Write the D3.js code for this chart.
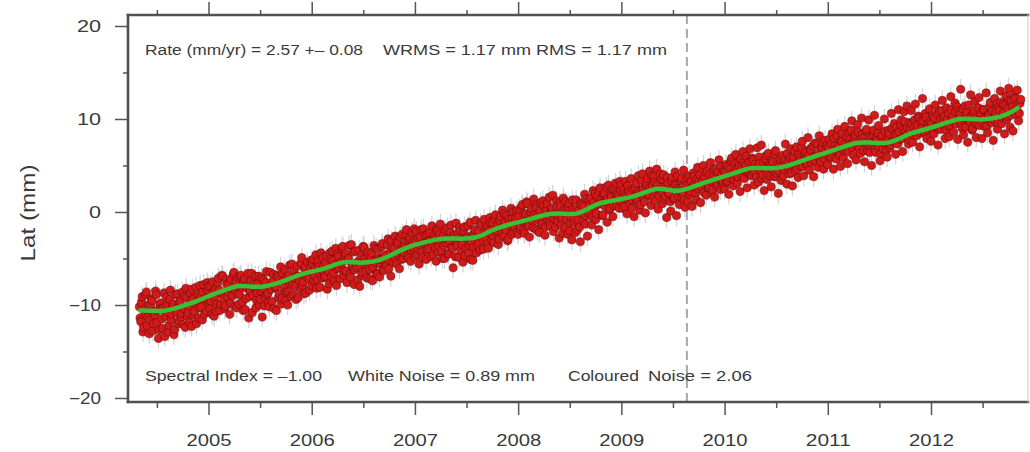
<!DOCTYPE html>
<html><head><meta charset="utf-8">
<script src="https://cdn.jsdelivr.net/npm/d3@7"></script>
<style>body{margin:0;background:#fff}svg{display:block}</style>
</head><body><svg id="c" width="1030" height="452"></svg>
<script>
// ---- data (Lat, mm): two interleaved sets, each one value every 5 days ----
const sampleStep = 1/73;
const seriesStarts = [2004.33, 2005, 2006, 2007, 2008, 2009, 2010, 2011, 2012];
const lat2004 = [-10.2,-11.8,-9.1,-12.4,-10.9,-8.6,-11.3,-13.1,-10.0,-9.5,
-12.0,-11.1,-8.9,-10.6,-12.7,-9.8,-11.5,-10.3,-13.4,-9.2,
-10.8,-12.2,-8.4,-11.0,-9.9,-12.6,-10.4,-8.8,-11.7,-9.6,
-10.9,-12.1,-9.0,-8.2,-11.2,-10.1,-8.7,-12.3,-9.4,-10.7,
-8.1,-9.8,-11.4,-7.9,-10.2,-8.6,-11.0,-9.3,-7.6];
const lat2005 = [-8.0,-10.4,-9.6,-7.5,-11.2,-8.3,-9.9,-7.1,-10.6,-8.8,
-6.9,-9.4,-10.1,-7.8,-8.6,-11.0,-7.2,-9.0,-6.5,-8.4,
-10.3,-7.0,-8.9,-6.8,-9.7,-7.6,-10.5,-8.2,-6.6,-9.1,
-7.4,-10.8,-8.0,-6.9,-9.5,-7.7,-10.0,-8.5,-11.3,-7.3,
-9.2,-6.4,-8.7,-10.2,-7.9,-9.6,-6.7,-8.1,-10.6,-7.0,
-8.8,-5.9,-9.3,-7.4,-6.2,-8.6,-10.0,-6.8,-7.7,-5.6,
-8.9,-7.1,-9.4,-5.8,-6.9,-8.3,-4.9,-7.5,-6.1,-8.7,
-5.4,-7.2,-6.0];
const lat2006 = [-7.9,-5.1,-6.8,-4.6,-7.3,-5.9,-8.1,-6.2,-4.9,-7.0,
-5.5,-8.3,-6.4,-4.4,-6.9,-5.2,-7.4,-3.9,-6.1,-4.8,
-7.2,-5.6,-3.7,-6.3,-4.5,-7.6,-5.0,-6.7,-3.5,-5.8,
-7.8,-4.2,-6.0,-5.3,-8.0,-4.7,-6.5,-3.8,-5.7,-7.1,
-4.3,-6.2,-5.0,-7.4,-3.6,-5.4,-6.6,-4.0,-7.0,-5.1,
-3.4,-6.3,-4.6,-5.8,-2.9,-5.2,-6.9,-3.8,-4.5,-2.6,
-5.6,-3.3,-6.1,-4.2,-2.4,-5.0,-3.6,-1.9,-4.7,-3.0,
-5.3,-2.2,-3.9];
const lat2007 = [-4.8,-2.1,-3.9,-5.6,-2.7,-4.3,-1.8,-3.4,-5.1,-2.4,
-4.0,-3.1,-1.5,-4.6,-2.9,-5.3,-2.0,-3.7,-1.3,-4.2,
-2.6,-5.0,-3.3,-1.7,-4.5,-2.2,-3.8,-6.0,-2.5,-1.2,
-3.6,-4.9,-2.0,-3.0,-5.4,-1.6,-3.9,-2.7,-4.4,-1.1,
-3.2,-5.2,-2.3,-0.9,-3.5,-2.1,-4.1,-1.4,-3.0,-0.8,
-2.8,-1.7,-3.9,-0.6,-2.4,-1.2,-3.3,-0.3,-2.0,-3.5,
-0.9,-1.8,0.2,-2.6,-1.1,-0.4,-2.9,-1.5,0.4,-0.7,
-2.2,-1.0,0.1];
const lat2008 = [-2.4,0.3,-1.6,0.8,-2.0,-0.5,1.1,-1.3,-2.7,0.0,
-0.9,1.4,-1.8,0.5,-0.3,-2.2,1.0,-1.1,0.7,-2.5,
0.2,-0.8,1.6,-1.5,0.4,-2.1,-0.2,1.2,-1.0,-2.8,
0.6,-0.6,1.5,-1.7,-0.1,-2.4,0.9,-1.2,-3.0,0.3,
-0.7,1.3,-1.9,0.1,-3.2,0.8,-1.0,1.9,-0.4,-2.6,
1.2,0.0,-1.4,2.3,0.5,-0.8,1.7,-1.9,2.6,0.9,
-0.3,2.0,1.1,-1.1,2.9,0.4,1.6,-0.5,2.4,3.1,
0.6,1.9,3.3];
const lat2009 = [2.9,0.4,1.9,3.3,-0.2,2.2,0.9,3.6,1.3,-0.5,
2.6,1.0,3.9,0.2,2.0,4.1,1.5,-0.1,3.0,1.8,
4.4,0.7,2.9,3.8,1.2,4.6,0.3,2.4,3.5,0.9,
4.0,1.7,-0.6,3.1,2.0,0.1,3.7,1.4,4.3,-0.4,
2.5,0.8,3.4,1.6,4.5,0.5,2.8,1.1,3.9,2.2,
0.6,4.2,2.9,1.3,4.8,3.3,1.0,2.6,5.0,3.7,
1.8,4.4,2.7,5.3,2.1,3.9,1.6,4.7,3.0,5.6,
2.4,4.1,3.2];
const lat2010 = [2.5,5.1,3.3,1.9,4.6,5.8,2.8,4.0,6.2,3.1,
5.3,2.2,4.7,6.5,3.6,5.0,2.6,4.3,6.8,3.9,
5.6,2.9,4.4,6.9,3.2,5.2,7.2,4.0,2.3,5.7,
3.5,6.3,4.8,2.7,5.4,3.8,6.6,4.2,2.0,5.0,
3.4,6.1,4.6,7.3,3.0,5.5,4.1,6.8,2.8,5.9,
4.4,7.0,3.7,5.8,4.9,7.6,3.9,6.3,5.1,8.0,
4.5,6.7,5.6,3.8,7.4,6.0,4.8,8.2,5.4,6.9,
4.6,7.7,6.2];
const lat2011 = [5.1,7.8,6.0,8.4,4.6,7.1,5.7,8.9,6.5,4.9,
7.6,5.8,9.2,6.9,5.2,8.5,7.3,9.8,6.1,8.0,
5.6,9.4,7.0,6.3,10.1,7.9,5.4,8.7,6.6,9.9,
7.2,5.0,8.3,10.4,6.4,7.7,9.3,5.5,8.1,6.8,
10.0,7.4,5.9,8.8,6.9,10.6,7.6,9.5,6.2,8.4,
11.0,7.8,9.9,6.5,10.8,8.6,11.4,7.3,9.6,10.9,
7.5,9.1,11.6,8.2,10.3,7.0,9.8,12.2,8.5,10.6,
7.9,9.4,11.1];
const lat2012 = [7.6,10.3,8.4,11.5,9.1,7.2,10.8,8.9,12.0,9.7,
7.9,11.2,9.3,8.1,12.4,10.0,8.6,11.7,9.5,7.8,
10.9,13.2,9.0,8.3,11.4,10.2,7.5,9.8,12.6,8.8,
10.6,11.9,8.0,9.4,12.3,10.1,7.9,11.0,9.2,12.8,
8.5,10.4,11.8,9.6,7.7,12.2,10.7,8.9,11.3,13.0,
9.5,11.6,8.4,12.5,10.3,13.3,9.1,11.9,8.7,12.7,
10.5,13.1,9.8,11.7];
// second set, sampled half a step later
const lat2004b = [-11.4,-9.7,-12.9,-10.5,-8.9,-12.2,-10.0,-11.6,-9.3,-12.8,
-10.7,-8.5,-11.9,-13.6,-9.9,-10.4,-12.5,-8.7,-11.2,-10.1,
-12.9,-9.4,-11.6,-10.2,-13.2,-8.9,-10.8,-12.0,-9.7,-11.3,
-8.6,-10.4,-12.4,-9.2,-10.8,-11.9,-9.5,-8.3,-11.1,-9.9,
-12.0,-8.8,-10.3,-9.0,-11.6,-7.8,-9.5,-10.7,-8.4];
const lat2005b = [-9.8,-7.9,-11.0,-8.6,-9.2,-10.7,-7.6,-8.4,-9.9,-6.8,
-8.9,-10.4,-7.3,-9.1,-7.7,-9.8,-8.3,-6.7,-10.2,-7.5,
-8.8,-9.9,-6.9,-8.1,-10.6,-7.2,-9.3,-7.9,-11.4,-8.5,
-6.6,-9.0,-7.8,-10.3,-8.7,-6.9,-9.4,-7.1,-8.2,-10.1,
-7.6,-8.9,-9.8,-6.5,-8.3,-7.4,-10.4,-8.0,-6.8,-9.2,
-7.3,-9.9,-6.6,-8.1,-9.5,-7.0,-8.6,-5.7,-9.1,-7.8,
-6.3,-8.0,-6.9,-9.2,-7.4,-5.5,-7.9,-8.8,-5.9,-7.0,
-6.6,-8.4,-5.2];
const lat2006b = [-5.6,-7.4,-6.1,-8.2,-5.3,-6.6,-4.4,-7.1,-5.8,-6.9,
-4.7,-6.3,-7.7,-5.1,-4.2,-6.6,-5.7,-7.9,-4.5,-6.0,
-5.4,-3.9,-6.8,-4.8,-6.4,-5.2,-3.6,-7.0,-5.9,-4.3,
-6.2,-5.5,-7.3,-4.1,-5.9,-6.8,-3.7,-5.0,-6.4,-4.6,
-5.8,-7.2,-4.4,-6.0,-5.3,-3.9,-6.7,-4.9,-5.6,-3.7,
-6.2,-4.8,-5.5,-3.5,-6.1,-4.3,-3.1,-5.4,-3.9,-5.0,
-3.2,-4.6,-2.7,-5.1,-3.8,-4.4,-2.5,-3.1,-5.0,-2.8,
-4.1,-3.4,-1.8];
const lat2007b = [-3.1,-4.6,-2.8,-3.6,-1.9,-4.9,-3.3,-2.5,-4.1,-3.6,
-2.2,-4.8,-3.5,-2.6,-3.9,-1.8,-4.3,-2.4,-3.2,-5.0,
-3.6,-1.9,-2.9,-4.5,-3.1,-1.4,-3.9,-2.6,-4.8,-3.4,
-2.3,-1.7,-4.1,-3.5,-2.1,-4.7,-2.8,-1.5,-3.6,-5.1,
-2.5,-3.8,-1.9,-4.4,-2.7,-3.3,-1.2,-2.8,-4.0,-2.2,
-1.5,-3.4,-2.0,-1.1,-3.0,-2.6,-0.7,-2.2,-1.4,-2.9,
-0.5,-2.3,-1.6,-0.2,-1.9,-3.1,-0.8,-1.3,-2.4,0.0,
-1.6,-0.6,-2.1];
const lat2008b = [-0.4,-1.9,0.6,-1.0,-2.3,-0.2,0.9,-1.5,-0.6,0.4,
-1.7,-0.3,0.8,-2.0,-0.9,0.2,-1.3,1.2,-0.5,-1.6,
0.9,-0.4,-1.2,0.3,1.8,-0.7,-1.6,0.6,-0.3,1.0,
-1.4,-2.3,0.2,1.1,-0.8,0.5,-2.0,-0.5,1.3,-1.1,
-2.2,0.4,-0.9,-1.6,1.0,-0.2,0.6,-1.3,1.4,-0.1,
0.7,1.5,-0.6,1.0,2.0,-0.2,0.8,2.2,1.3,-0.4,
1.9,0.6,2.7,1.4,0.2,1.8,2.5,0.7,1.2,2.0,
1.6,0.4,2.3];
const lat2009b = [1.0,2.4,0.6,1.7,2.8,1.2,2.0,0.4,2.5,1.6,
3.1,1.3,2.2,0.8,3.4,2.5,1.1,2.8,3.6,1.9,
2.6,3.9,1.5,3.2,2.4,3.0,1.8,4.1,2.2,3.5,
1.4,2.8,3.7,2.0,1.1,3.3,2.6,1.5,2.9,3.8,
1.7,2.3,3.6,2.0,1.3,3.1,3.7,2.4,1.9,3.3,
2.7,3.8,2.0,3.5,2.5,4.0,2.8,3.4,2.1,4.3,
3.1,2.6,4.0,3.3,2.4,4.6,3.6,2.8,4.3,3.5,
4.9,3.0,4.4];
const lat2010b = [4.3,3.2,4.9,3.7,5.5,4.1,3.5,5.2,4.6,3.8,
4.9,5.7,3.9,5.3,4.5,6.0,4.2,5.4,4.0,5.8,
4.3,5.1,3.7,4.8,5.9,4.4,3.6,5.3,4.7,6.1,
4.1,5.0,3.9,5.6,4.5,6.2,3.8,5.1,4.4,5.7,
4.9,3.9,5.6,5.0,6.3,4.7,5.8,4.2,5.4,6.6,
5.1,4.6,6.2,5.5,6.9,4.9,5.7,6.5,5.2,6.1,
6.8,5.3,7.1,6.0,5.5,7.3,6.3,5.8,6.9,7.5,
5.7,6.6,7.2];
const lat2011b = [6.9,5.8,7.4,6.3,7.9,6.6,8.2,7.0,6.1,7.7,
8.4,6.7,7.3,8.1,6.5,7.8,8.8,6.9,7.6,8.3,
7.1,8.6,6.8,7.9,8.4,6.6,7.5,8.9,7.2,6.4,
8.0,7.4,8.8,6.7,7.9,8.5,7.0,6.3,8.2,7.5,
8.7,6.6,7.8,8.4,7.2,9.0,7.6,8.3,9.1,7.3,
8.6,9.4,7.9,8.8,9.7,8.2,9.1,7.8,8.9,9.5,
8.3,9.9,8.7,9.3,10.1,8.5,9.0,9.8,8.6,10.2,
9.2,8.8,9.7];
const lat2012b = [9.5,8.6,10.1,9.2,10.6,8.9,9.8,10.9,9.4,10.3,
8.8,9.9,10.6,9.3,11.0,10.2,9.6,10.8,11.3,9.9,
10.5,9.4,11.1,10.0,9.1,10.7,11.5,9.7,10.3,9.0,
10.9,9.5,10.2,11.2,9.3,10.6,9.8,11.0,10.1,9.2,
10.5,11.4,9.7,10.8,9.9,10.4,11.6,9.6,10.9,11.8,
10.2,10.7,11.5,9.9,11.1,12.0,10.4,11.3,10.8,12.2,
11.0,11.7,10.6,12.1];
const latSeriesA = [lat2004, lat2005, lat2006, lat2007, lat2008, lat2009, lat2010, lat2011, lat2012];
const latSeriesB = [lat2004b, lat2005b, lat2006b, lat2007b, lat2008b, lat2009b, lat2010b, lat2011b, lat2012b];
const errorBar = 1.1;

// smoothed model (green line)
const modelYears = [2004.34,2004.45,2004.56,2004.70,2004.89,2005.05,2005.21,2005.28,2005.40,2005.53,2005.69,2005.80,2005.92,
2006.05,2006.18,2006.30,2006.40,2006.50,2006.66,2006.76,2006.86,2007.00,2007.18,2007.30,2007.45,2007.60,2007.70,2007.82,
2008.00,2008.14,2008.31,2008.45,2008.57,2008.70,2008.79,2008.95,2009.11,2009.25,2009.35,2009.45,2009.54,2009.65,2009.76,2009.90,
2010.05,2010.15,2010.25,2010.40,2010.54,2010.70,2010.85,2011.02,2011.15,2011.28,2011.40,2011.57,2011.70,2011.80,
2012.02,2012.15,2012.28,2012.40,2012.50,2012.67,2012.76,2012.84];
const modelVals = [-10.6,-10.6,-10.7,-10.3,-9.6,-8.8,-8.2,-7.9,-8.0,-8.1,-7.6,-7.1,-6.6,
-6.3,-5.9,-5.3,-5.4,-5.5,-5.2,-4.7,-4.1,-3.5,-3.0,-2.8,-2.9,-2.8,-2.2,-1.6,
-1.1,-0.7,-0.1,-0.2,-0.3,0.5,1.0,1.3,1.6,2.2,2.6,2.4,2.2,2.5,3.0,3.5,
4.0,4.4,4.8,4.7,4.7,5.3,5.9,6.5,7.0,7.5,7.5,7.3,7.9,8.5,
9.1,9.6,10.1,10.0,9.9,10.2,10.6,11.2];

const yMajor = [-20,-10,0,10,20];
const yMinor = [-15,-5,5,15];
const xMajor = [2005,2006,2007,2008,2009,2010,2011,2012];
const xMinor = [2004.5,2005.5,2006.5,2007.5,2008.5,2009.5,2010.5,2011.5,2012.5];
const antennaChange = 2009.635;
const statsTop = ["Rate (mm/yr) = 2.57 +\u2013 0.08", "WRMS = 1.17 mm RMS = 1.17 mm"];
const statsBottom = ["Spectral Index = \u20131.00", "White Noise = 0.89 mm", "Coloured", "Noise = 2.06"];
const yTitle = "Lat (mm)";

// ---- drawing ----
const svg = d3.select("#c");
const L = 128, R = 1028, T = 15, B = 402;
const x = d3.scaleLinear().domain([2005, 2012]).range([208.5, 931]);
const y = d3.scaleLinear().domain([-20, 20]).range([398, 26]);
const font = "'Liberation Sans', Arial, Helvetica, sans-serif";

svg.append("defs").append("clipPath").attr("id","clip")
  .append("rect").attr("x",L).attr("y",T).attr("width",R-L).attr("height",B-T);

const pts = [];
latSeriesA.forEach((arr, k) => arr.forEach((v, i) => pts.push({t: seriesStarts[k] + i*sampleStep, v})));
latSeriesB.forEach((arr, k) => arr.forEach((v, i) => pts.push({t: seriesStarts[k] + (i+0.5)*sampleStep, v})));
pts.sort((a,b)=>a.t-b.t);

const plot = svg.append("g").attr("clip-path","url(#clip)");
plot.append("line").attr("x1",x(antennaChange)).attr("x2",x(antennaChange))
  .attr("y1",T).attr("y2",B).attr("stroke","#a8a8a8").attr("stroke-width",2).attr("stroke-dasharray","9,5");

plot.append("g").selectAll("line").data(pts).join("line")
  .attr("x1",d=>x(d.t)).attr("x2",d=>x(d.t))
  .attr("y1",d=>y(d.v+errorBar)).attr("y2",d=>y(d.v-errorBar))
  .attr("stroke","#d2d2d8").attr("stroke-width",1.2);

plot.append("g").selectAll("circle").data(pts).join("circle")
  .attr("cx",d=>x(d.t)).attr("cy",d=>y(d.v)).attr("r",4.1)
  .attr("fill","#d11a1a").attr("stroke","#5a0808").attr("stroke-width",0.5);

plot.append("path").datum(modelYears.map((t,i)=>[t, modelVals[i]]))
  .attr("fill","none").attr("stroke","#36c236").attr("stroke-width",4.5).attr("stroke-linecap","round")
  .attr("d", d3.line().x(d=>x(d[0])).y(d=>y(d[1])).curve(d3.curveBasis));

// axes
function styleAxis(g){ g.select(".domain").remove();
  g.selectAll(".tick line").attr("stroke","#555").attr("stroke-width",1.5);
  g.selectAll("text").attr("fill","#3a3a3a").style("font-family",font).style("font-size","16px"); }

svg.append("g").attr("transform",`translate(${L},0)`)
  .call(d3.axisLeft(y).tickValues(yMajor).tickSize(13).tickPadding(14).tickFormat(d=>d3.format("d")(d).replace("-","\u2013")))
  .call(styleAxis)
  .call(g=>g.selectAll("text").attr("textLength",d=>d<0?32:(d===0?12:24)).attr("lengthAdjust","spacingAndGlyphs"));
svg.append("g").attr("transform",`translate(${L},0)`)
  .call(d3.axisLeft(y).tickValues(yMinor).tickSize(5).tickFormat("")).call(styleAxis);

svg.append("g").attr("transform",`translate(0,${B})`)
  .call(d3.axisBottom(x).tickValues(xMajor).tickSize(13).tickPadding(19.5).tickFormat(d3.format("d")))
  .call(styleAxis)
  .call(g=>g.selectAll("text").attr("textLength",45).attr("lengthAdjust","spacingAndGlyphs"));
svg.append("g").attr("transform",`translate(0,${B})`)
  .call(d3.axisBottom(x).tickValues(xMinor.filter(v=>x(v)>L&&x(v)<R)).tickSize(6).tickFormat("")).call(styleAxis);
svg.append("g").attr("transform",`translate(0,${T})`)
  .call(d3.axisTop(x).tickValues(xMajor).tickSize(13).tickFormat("")).call(styleAxis);
svg.append("g").attr("transform",`translate(0,${T})`)
  .call(d3.axisTop(x).tickValues(xMinor.filter(v=>x(v)>L&&x(v)<R)).tickSize(5).tickFormat("")).call(styleAxis);

// frame
const fr = svg.append("g").attr("stroke-linecap","square");
fr.append("line").attr("x1",L).attr("x2",R).attr("y1",T).attr("y2",T).attr("stroke","#505050").attr("stroke-width",2.6);
fr.append("line").attr("x1",L).attr("x2",R).attr("y1",B).attr("y2",B).attr("stroke","#505050").attr("stroke-width",2.6);
fr.append("line").attr("x1",L).attr("x2",L).attr("y1",T).attr("y2",B).attr("stroke","#505050").attr("stroke-width",2.6);
fr.append("line").attr("x1",R).attr("x2",R).attr("y1",T).attr("y2",B).attr("stroke","#c8c8c8").attr("stroke-width",1);

// annotations
const ann = svg.append("g").style("font-family",font).style("font-size","14px").attr("fill","#3a3a3a");
const tx = [[145,218],[383,284]];
statsTop.forEach((s,i)=>ann.append("text").attr("x",tx[i][0]).attr("y",55).text(s)
  .attr("textLength",tx[i][1]).attr("lengthAdjust","spacingAndGlyphs"));
const bx = [[145,177],[348,187],[568,71],[648,104]];
statsBottom.forEach((s,i)=>ann.append("text").attr("x",bx[i][0]).attr("y",381).text(s)
  .attr("textLength",bx[i][1]).attr("lengthAdjust","spacingAndGlyphs"));

svg.append("text").attr("transform","translate(35,213) rotate(-90)").attr("text-anchor","middle")
  .style("font-family",font).style("font-size","21px").attr("fill","#3a3a3a")
  .attr("textLength",97).attr("lengthAdjust","spacingAndGlyphs").text(yTitle);
</script></body></html>
